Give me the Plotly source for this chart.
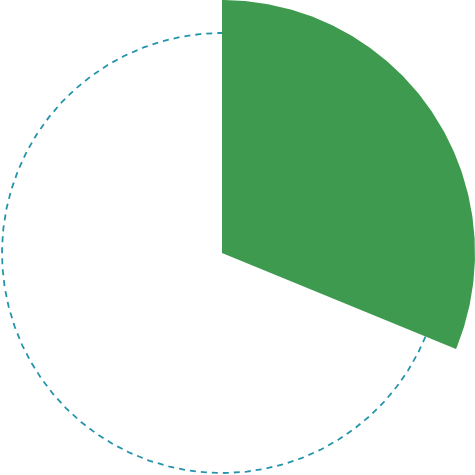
import numpy as np
import plotly.graph_objects as go

# data
labels = ["Share", "Rest"]
values = [31.2, 68.8]
wedge_radius = 253
ring_radius = 220

total = sum(values)
frac = values[0] / total

# wedge from 12 o'clock clockwise
ang = np.linspace(0, frac * 2 * np.pi, 200)
wx = np.concatenate([[0], wedge_radius * np.sin(ang), [0]])
wy = np.concatenate([[0], wedge_radius * np.cos(ang), [0]])

# dashed ring over the remaining part
rang = np.linspace(frac * 2 * np.pi, 2 * np.pi, 600)
rx = ring_radius * np.sin(rang)
ry = ring_radius * np.cos(rang)

fig = go.Figure()
fig.add_trace(go.Scatter(x=rx, y=ry, mode="lines",
                         line=dict(color="#2494ac", width=1.8, dash="6px,5px"),
                         hoverinfo="skip", name=labels[1]))
fig.add_trace(go.Scatter(x=wx, y=wy, mode="lines", fill="toself",
                         fillcolor="#3e9a4e", line=dict(width=0, color="#3e9a4e"),
                         name=labels[0]))

fig.update_layout(
    width=475, height=475,
    margin=dict(l=0, r=0, t=0, b=0),
    paper_bgcolor="white", plot_bgcolor="white",
    showlegend=False,
    xaxis=dict(range=[-222, 253], visible=False, fixedrange=True),
    yaxis=dict(range=[-222, 253], visible=False, fixedrange=True),
)
fig.write_html("out.html", config={"displayModeBar": False},
               post_script="document.body.style.margin='0';document.body.style.overflow='hidden';")
